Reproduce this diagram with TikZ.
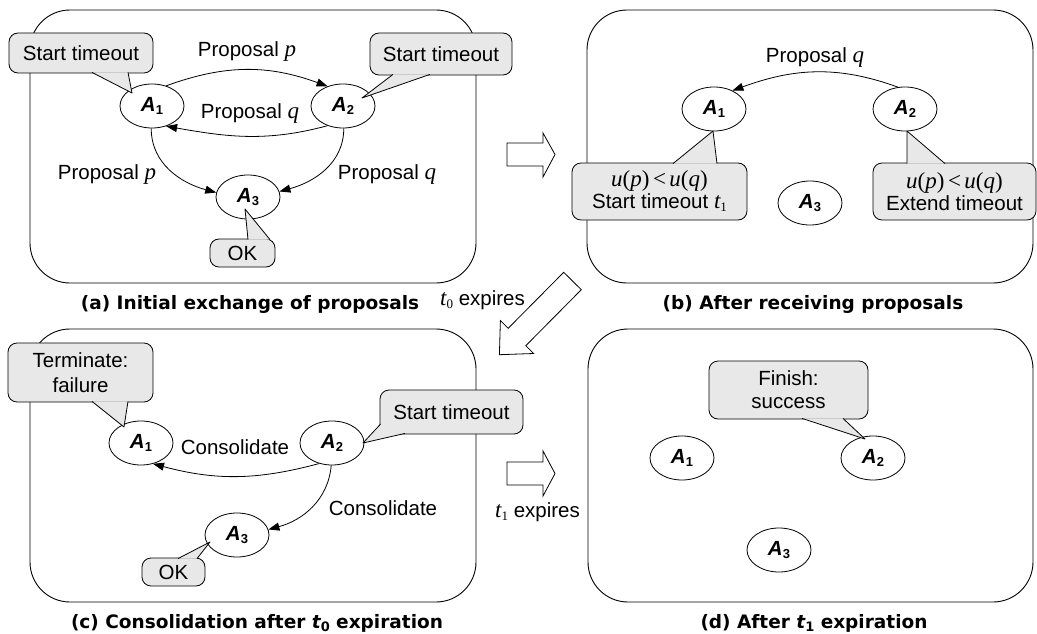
\documentclass[tikz,border=0pt]{standalone}
\usepackage{fontspec}
\setmainfont{Liberation Sans}
\newfontfamily\capfont{DejaVu Sans}
\newfontfamily\tms{Liberation Serif}
\usetikzlibrary{arrows.meta,shapes.geometric}
\definecolor{cgray}{RGB}{232,232,232}
\newcommand\Ag[1]{{\bfseries\itshape A\kern0.3pt\raisebox{-2.5pt}{\fontsize{13}{13}\selectfont\upshape #1}}}
\newcommand\vi[1]{{\tms\itshape\fontsize{23}{20}\selectfont #1}}
\newcommand\vr[1]{{\tms\fontsize{23}{20}\selectfont #1}}
\newcommand\sbs[1]{\raisebox{-3pt}{\fontsize{13}{13}\selectfont #1}}
\newcommand\capf{\capfont\bfseries\fontsize{18.5}{22}\selectfont}
\newcommand\ineq{\vi{u}\vr{(}\vi{p}\vr{)}\kern3.5pt\vr{<}\kern3.5pt\vi{u}\vr{(}\vi{q}\vr{)}}
\begin{document}
\begin{tikzpicture}[x=1pt,y=1pt,font=\fontsize{20.5}{24}\selectfont,
 panel/.style={draw,line width=0.9pt,rounded corners=40pt},
 agent/.style={draw,ellipse,fill=white,minimum width=64pt,minimum height=44pt,inner sep=0pt,line width=0.8pt},
 arr/.style={-{Triangle[length=11pt,width=8pt]},line width=0.8pt},
 callout/.style={draw,fill=cgray,rounded corners=9pt,inner sep=0pt,align=center,line width=0.8pt},
 ptr/.style={draw,fill=cgray,line width=0.8pt,line join=round},
 lbl/.style={inner sep=0pt,anchor=base},
 bigarrow/.style={draw,fill=white,line width=0.8pt}]
\useasboundingbox (0,0) rectangle (1037,-634);

% panels
\draw[panel] (30,-10) rectangle (476,-283);
\draw[panel] (587,-10) rectangle (1033,-283);
\draw[panel] (30,-329) rectangle (476,-602);
\draw[panel] (588,-329) rectangle (1033,-602);

% big transition arrows
\draw[bigarrow] (507,-143) -- (543,-143) -- (543,-133) -- (555,-154.5) -- (543,-177) -- (543,-166) -- (507,-166) -- cycle;
\draw[bigarrow] (507,-462) -- (543,-462) -- (543,-451) -- (555,-473.5) -- (543,-496) -- (543,-485) -- (507,-485) -- cycle;
\draw[bigarrow] (563.7,-272.3) -- (508.2,-328.3) -- (500.4,-320.5) -- (499.4,-354.7) -- (533.6,-353.5) -- (525.8,-345.7) -- (581.3,-289.7) -- cycle;
\node[lbl,anchor=base west] (t0e) at (440,-305) {\vi{t}\sbs{\tms 0} expires};
\node[lbl,anchor=base west] (t1e) at (495,-517) {\vi{t}\sbs{\tms 1} expires};

% ---------- (a)
\node[agent] (a1) at (152,-106) {\Ag1};
\node[agent] (a2) at (343,-106) {\Ag2};
\node[agent] (a3) at (248,-197) {\Ag3};
\draw[arr] (a1.55) to[out=20,in=160] (a2.128);
\draw[arr] (a2.232) to[out=195,in=-10] (a1.305);
\draw[arr] (a1.268) to[out=-90,in=165] (a3.172);
\draw[arr] (a2.272) to[out=-90,in=15] (a3.10);
\node[lbl] (la1) at (247,-57) {Proposal \vi{p}};
\node[lbl] (la2) at (250,-118) {Proposal \vi{q}};
\node[lbl] (la3) at (107,-179) {Proposal \vi{p}};
\node[lbl] (la4) at (387,-179) {Proposal \vi{q}};
\node[callout,minimum width=144pt,minimum height=40pt] (ca1) at (81,-53) {Start timeout};
\filldraw[ptr] (92,-72.4) -- (132,-93) -- (128,-72.4);
\node[callout,minimum width=142pt,minimum height=42pt] (ca2) at (441,-54) {Start timeout};
\filldraw[ptr] (393,-74.4) -- (362,-98) -- (430,-74.4);
\node[callout,minimum width=65pt,minimum height=28pt] (ca3) at (242.5,-253) {OK};
\filldraw[ptr] (248,-239.6) -- (245,-209) -- (270,-239.6);
\node[lbl,font=\capf] (capa) at (250,-309) {(a) Initial exchange of proposals};

% ---------- (b)
\node[agent] (b1) at (714,-109) {\Ag1};
\node[agent] (b2) at (905,-109) {\Ag2};
\node[agent] (b3) at (810,-203) {\Ag3};
\draw[arr] (b2.108) to[out=160,in=20] (b1.45);
\node[lbl] (lb1) at (815,-63) {Proposal \vi{q}};
\node[callout,minimum width=175pt,minimum height=57pt,font=\fontsize{20.5}{22}\selectfont] (cb1) at (659.5,-191.5)
  {\ineq\\Start timeout \vi{t}\sbs{\tms 1}};
\filldraw[ptr] (673,-163.6) -- (713,-131) -- (717,-163.6);
\node[callout,minimum width=163pt,minimum height=57pt,font=\fontsize{20.5}{22}\selectfont] (cb2) at (954.5,-191.5)
  {\ineq\\Extend timeout};
\filldraw[ptr] (907,-163.6) -- (907,-131) -- (945,-163.6);
\node[lbl,font=\capf] (capb) at (813,-309) {(b) After receiving proposals};

% ---------- (c)
\node[agent] (c1) at (141,-443) {\Ag1};
\node[agent] (c2) at (332,-443) {\Ag2};
\node[agent] (c3) at (237,-535) {\Ag3};
\draw[arr] (c2.238) to[out=195,in=-15] (c1.300);
\draw[arr] (c2.268) to[out=-95,in=15] (c3.10);
\node[lbl] (lc1) at (235,-454) {Consolidate};
\node[lbl] (lc2) at (383,-515) {Consolidate};
\node[callout,minimum width=145pt,minimum height=59pt,font=\fontsize{20.5}{25}\selectfont] (cc1) at (80.5,-372.5) {Terminate:\\failure};
\filldraw[ptr] (92,-401.4) -- (124,-427) -- (128,-401.4);
\node[callout,minimum width=143pt,minimum height=44pt] (cc2) at (451.5,-412) {Start timeout};
\filldraw[ptr] (380.6,-424) -- (363,-443) -- (405,-433.4);
\node[callout,minimum width=63pt,minimum height=28pt] (cc3) at (173.5,-572) {OK};
\filldraw[ptr] (178,-558.6) -- (210,-542) -- (197,-558.6);
\node[lbl,font=\capf] (capc) at (257,-628) {(c) Consolidation after {\itshape t}\sbs{0} expiration};

% ---------- (d)
\node[agent] (d1) at (682,-458) {\Ag1};
\node[agent] (d2) at (873,-458) {\Ag2};
\node[agent] (d3) at (779,-550) {\Ag3};
\node[callout,minimum width=159pt,minimum height=58pt,font=\fontsize{20.5}{23}\selectfont] (cd1) at (788.5,-390) {Finish:\\success};
\filldraw[ptr] (802,-418.4) -- (865,-439) -- (843,-418.4);
\node[lbl,font=\capf] (capd) at (814,-628) {(d) After {\itshape t}\sbs{1} expiration};
\end{tikzpicture}
\end{document}
